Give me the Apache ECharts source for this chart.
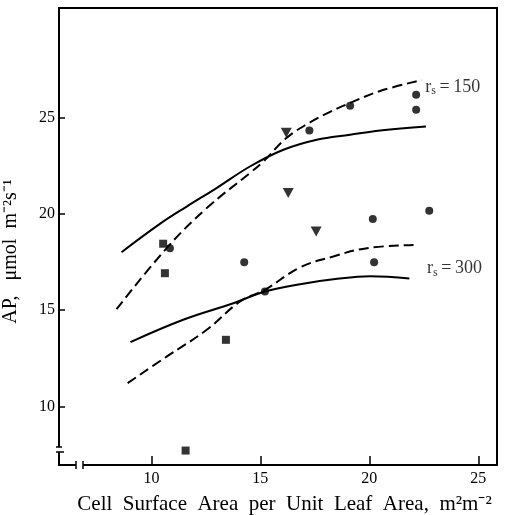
<!DOCTYPE html>
<html><head><meta charset="utf-8">
<script src="https://cdn.jsdelivr.net/npm/echarts@6/dist/echarts.min.js"></script>
<style>html,body{margin:0;padding:0;background:#fff}#c{width:505px;height:515px}</style>
</head><body><div id="c"></div>
<script>
// ---- data ----
var xTicks = [10, 15, 20, 25];
var yTicks = [10, 15, 20, 25];
var circles = [[22.15,26.19],[22.15,25.41],[19.12,25.62],[17.25,24.33],[20.16,19.74],[22.75,20.16],[10.85,18.22],[14.26,17.49],[20.22,17.49],[15.21,15.97]];
var triangles = [[16.19,24.21],[16.28,21.08],[17.56,19.08]];
var squares = [[10.54,18.45],[10.62,16.92],[13.42,13.46],[11.57,7.71]];
var solid150 = [[8.63,18.01],[10.39,19.48],[11.62,20.38],[12.99,21.34],[14.52,22.46],[16.06,23.33],[17.59,23.85],[19.12,24.11],[20.5,24.33],[22.6,24.54]];
var dashed150 = [[8.40,15.05],[10.70,18.22],[12.54,20.30],[14.52,22.12],[15.14,22.72],[16.21,23.95],[17.28,24.75],[18.2,25.3],[19.12,25.76],[20.5,26.38],[22.41,26.95]];
var solid300 = [[9.04,13.34],[11.46,14.50],[13.76,15.36],[15.21,15.97],[16.82,16.35],[18.35,16.6],[20.04,16.76],[21.84,16.64]];
var dashed300 = [[8.91,11.21],[10.70,12.59],[12.54,13.98],[14.07,15.45],[15.21,16.06],[16.82,17.22],[18.35,17.79],[19.89,18.22],[22.03,18.39]];
var curveLabels = ['150', '300'];
var labelAnchors = [[22.57,26.6],[22.65,17.15]];
var xName = 'Cell  Surface  Area  per  Unit  Leaf  Area,  m\u00B2m\u207B\u00B2';
var yName = 'AP,   \u03BCmol  m\u207B\u00B2s\u207B\u00B9';

// ---- chart ----
var FONT = 'Liberation Serif';
var chart = echarts.init(document.getElementById('c'), null, {renderer:'canvas'});
var G = {left:59, right:8, top:8, bottom:50};
function lineSeries(d, dashed){
  return {type:'line', data:d, smooth:0.4, showSymbol:false, silent:true, z:3,
    lineStyle:{color:'#000', width:2, type: dashed ? [10,5] : 'solid'}};
}
var rich = {
  r:{fontFamily:FONT, fontSize:18, color:'#000'},
  s:{fontFamily:FONT, fontSize:12, color:'#000', padding:[9,0,0,0]}
};
chart.setOption({
  animation:false,
  backgroundColor:'#fff',
  grid:{left:G.left, right:G.right, top:G.top, bottom:G.bottom, show:true, borderColor:'#000', borderWidth:2,
    backgroundColor:'transparent', containLabel:false, outerBoundsMode:'none'},
  xAxis:{type:'value', min:5.76, max:25.86,
    name:xName, nameLocation:'middle', nameGap:29,
    nameTextStyle:{fontFamily:FONT, fontSize:21, color:'#000', padding:[0,0,0,13]},
    axisLine:{show:false}, splitLine:{show:false},
    axisTick:{show:true, inside:true, length:9, customValues:xTicks, lineStyle:{color:'#000', width:1.5}},
    axisLabel:{customValues:xTicks, fontFamily:FONT, fontSize:16, color:'#000', margin:6}},
  yAxis:{type:'value', min:6.96, max:30.69,
    name:yName, nameLocation:'middle', nameGap:38, nameRotate:90,
    nameTextStyle:{fontFamily:FONT, fontSize:20, color:'#000', padding:[0,30,0,0]},
    axisLine:{show:false}, splitLine:{show:false},
    axisTick:{show:true, inside:true, length:6, customValues:yTicks, lineStyle:{color:'#000', width:1.5}},
    axisLabel:{customValues:yTicks, fontFamily:FONT, fontSize:16, color:'#000', margin:4}},
  series:[
    lineSeries(solid150,false), lineSeries(dashed150,true),
    lineSeries(solid300,false), lineSeries(dashed300,true),
    {type:'scatter', data:circles, symbol:'circle', symbolSize:8, itemStyle:{color:'#000'}, z:4},
    {type:'scatter', data:triangles, symbol:'triangle', symbolRotate:180, symbolSize:[11,10], itemStyle:{color:'#000'}, z:4},
    {type:'scatter', data:squares, symbol:'rect', symbolSize:8, itemStyle:{color:'#000'}, z:4},
    {type:'scatter', data:labelAnchors.map(function(p,i){return {value:p, name:curveLabels[i]};}),
      symbolSize:0, silent:true, z:5,
      label:{show:true, position:'right', distance:0, color:'#000',
        formatter:function(p){return '{r|r}{s|s}{r|\u2009=\u2009' + p.name + '}';}, rich:rich}}
  ]
});
// axis-break marks at bottom-left corner
var gx = G.left, gy = 515 - G.bottom;
chart.setOption({graphic:[
  {type:'rect', z:100, shape:{x:gx-4, y:gy-18, width:8, height:5}, style:{fill:'#fff'}},
  {type:'line', z:101, shape:{x1:gx-3, y1:gy-18, x2:gx+3, y2:gy-18}, style:{stroke:'#000', lineWidth:1.5}},
  {type:'line', z:101, shape:{x1:gx-3, y1:gy-13, x2:gx+5, y2:gy-13}, style:{stroke:'#000', lineWidth:1.5}},
  {type:'rect', z:100, shape:{x:gx+17, y:gy-3, width:7, height:6}, style:{fill:'#fff'}},
  {type:'line', z:101, shape:{x1:gx+17, y1:gy-4, x2:gx+17, y2:gy+4}, style:{stroke:'#000', lineWidth:1.5}},
  {type:'line', z:101, shape:{x1:gx+24, y1:gy-4, x2:gx+24, y2:gy+4}, style:{stroke:'#000', lineWidth:1.5}}
]});
</script></body></html>
